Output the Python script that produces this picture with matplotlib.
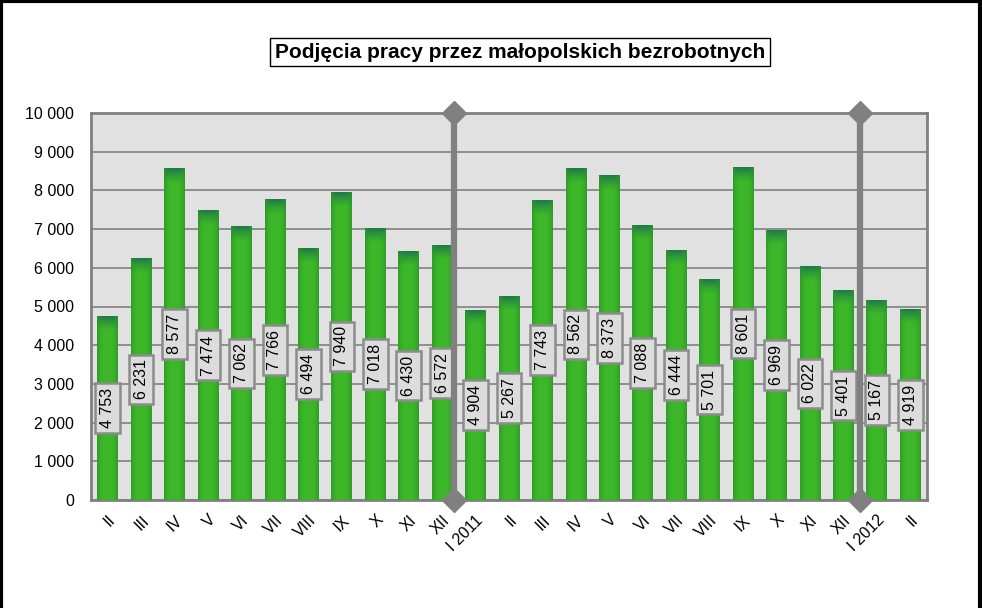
import matplotlib.pyplot as plt
import numpy as np
from matplotlib.lines import Line2D

plt.rcParams['font.family'] = ['Liberation Sans', 'DejaVu Sans']

# miesiace i wartosci
months = ['II', 'III', 'IV', 'V', 'VI', 'VII', 'VIII', 'IX', 'X', 'XI', 'XII', 'I 2011',
          'II', 'III', 'IV', 'V', 'VI', 'VII', 'VIII', 'IX', 'X', 'XI', 'XII', 'I 2012', 'II']
values = [4753, 6231, 8577, 7474, 7062, 7766, 6494, 7940, 7018, 6430, 6572, 4904,
          5267, 7743, 8562, 8373, 7088, 6444, 5701, 8601, 6969, 6022, 5401, 5167, 4919]
yticks = [0, 1000, 2000, 3000, 4000, 5000, 6000, 7000, 8000, 9000, 10000]
divider_x = [10.35, 22.5]
title = 'Podjęcia pracy przez małopolskich bezrobotnych'


def fmt(v):
    return '{:,}'.format(v).replace(',', ' ')


def bar_image(h_units, top_units=380, n=300):
    # pionowo: ciemna zielen u gory przechodzi w zielen
    green = np.array([0x3d, 0xb8, 0x28]) / 255
    dark = np.array([0x1e, 0x78, 0x4a]) / 255
    edge = np.array([0x2c, 0x96, 0x2a]) / 255
    yy = np.linspace(0, h_units, n)[::-1]
    t = np.clip((yy - (h_units - top_units)) / top_units, 0, 1) ** 1.3
    col = green[None, :] * (1 - t[:, None]) + dark[None, :] * t[:, None]
    xx = np.linspace(-1, 1, 30)
    e = np.abs(xx) ** 3 * 0.8
    img = col[:, None, :] * (1 - e[None, :, None]) + edge[None, None, :] * e[None, :, None]
    return np.clip(img, 0, 1)


fig = plt.figure(figsize=(9.82, 6.08), dpi=100)
ax = fig.add_axes([91 / 982, 108 / 608, 836 / 982, 387 / 608])
ax.set_facecolor('#e1e1e1')

x = np.arange(len(values))
w = 0.62
bars = ax.bar(x, values, width=w, color='#3db828', zorder=2)
for b, v in zip(bars, values):
    x0 = b.get_x()
    ax.imshow(bar_image(v), extent=(x0, x0 + b.get_width(), 0, v),
              aspect='auto', zorder=3, interpolation='bilinear')
    ax.text(b.get_x() + b.get_width() / 2, v / 2, fmt(v), rotation=90,
            ha='center', va='center', fontsize=11.5, zorder=5,
            bbox=dict(boxstyle='square,pad=0.3', fc='#dcdcdc', ec='#8c8c8c', lw=1.8))

for dx in divider_x:
    ax.plot([dx, dx], [0, 10000], color='#808080', lw=4.5, marker='D', markersize=12,
            clip_on=False, zorder=6)

ax.set_xlim(-0.5, len(values) - 0.5)
ax.set_ylim(0, 10000)
ax.set_yticks(yticks)
ax.set_yticklabels([fmt(t) for t in yticks], fontsize=11.5)
ax.set_xticks(x)
ax.set_xticklabels(months, rotation=45, ha='right', rotation_mode='anchor', fontsize=11.5)
ax.tick_params(axis='both', length=0)
ax.tick_params(axis='y', pad=12)
ax.tick_params(axis='x', pad=9)
ax.yaxis.grid(True, color='#808080', lw=1.2, zorder=1)
ax.set_axisbelow(True)
for s in ax.spines.values():
    s.set_color('#808080')
    s.set_linewidth(2)

fig.text(520 / 982, 1 - 52 / 608, title, ha='center', va='center', fontsize=15,
         fontweight='bold',
         bbox=dict(boxstyle='square,pad=0.22', fc='white', ec='black', lw=1))

# czarna ramka: lewa, gorna, prawa
fig.add_artist(Line2D([0.0015, 0.0015, 0.9975, 0.9975], [0, 0.999, 0.999, 0],
                      transform=fig.transFigure, color='black', lw=3))

fig.savefig('out.png', dpi=100)
